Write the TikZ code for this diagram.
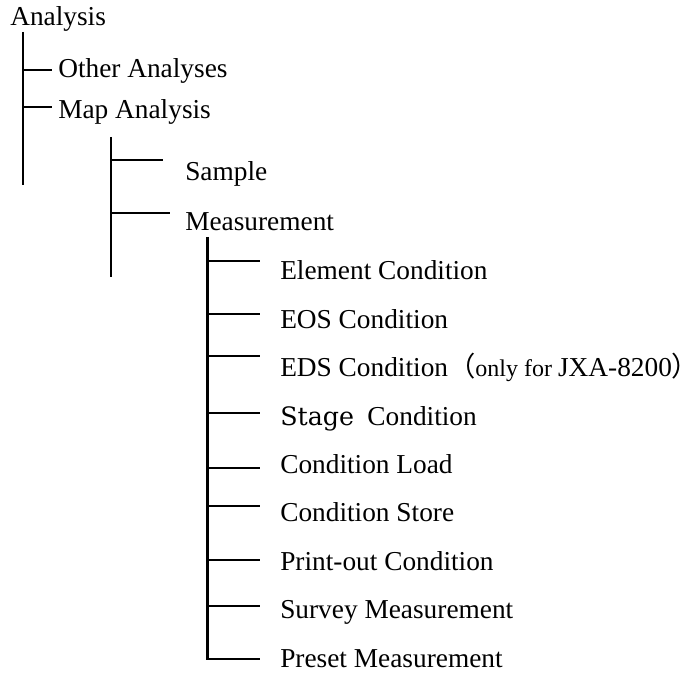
\documentclass[tikz,border=0pt]{standalone}
\usepackage{fontspec}
\setmainfont{Liberation Serif}
\newfontfamily\stagefont{DejaVu Serif}
\newfontfamily\cjkfont{Noto Sans CJK JP}

\begin{document}
\begin{tikzpicture}[x=0.75pt,y=-0.75pt,
        item/.style={anchor=base west,inner sep=0pt,font=\fontsize{20.5}{24}\selectfont},
        treeline/.style={line width=1.6pt,line join=miter}]
    \useasboundingbox (0,0) rectangle (699,673);

    % labels
    \node[item] (analysis) at (10,26) {Analysis};
    \node[item] (other) at (58,78) {Other Analyses};
    \node[item] (map) at (58,119) {Map Analysis};
    \node[item] (sample) at (185,181) {Sample};
    \node[item] (measure) at (185,231) {Measurement};
    \node[item] (element) at (280,280) {Element Condition};
    \node[item] (eos) at (280,328.4) {EOS Condition};
    \node[item] (eds) at (280,376.8) {EDS Condition{\cjkfont （}{\fontsize{18}{22}\selectfont only for }JXA-8200\makebox[0.55em][l]{\cjkfont ）}};
    \node[item] (stage) at (280,425.1) {{\stagefont\fontsize{19}{22}\selectfont Stage}\hspace{10pt}Condition};
    \node[item] (load) at (280,473.5) {Condition Load};
    \node[item] (store) at (280,521.9) {Condition Store};
    \node[item] (print) at (280,570.3) {Print-out Condition};
    \node[item] (survey) at (280,618.6) {Survey Measurement};
    \node[item] (preset) at (280,667) {Preset Measurement};

    % first level
    \coordinate (top1) at (23,32);
    \coordinate (bot1) at (23,185);
    \draw[treeline] (top1) -- (bot1);
    \foreach \y [count=\i] in {70,107}
        \draw[treeline] (23,\y) coordinate (j1\i) -- (52,\y) coordinate (e1\i);

    % second level
    \coordinate (top2) at (111,137);
    \coordinate (bot2) at (111,277);
    \draw[treeline] (top2) -- (bot2);
    \foreach \y/\x [count=\i] in {160/163,213/170}
        \draw[treeline] (111,\y) coordinate (j2\i) -- (\x,\y) coordinate (e2\i);

    % third level
    \coordinate (top3) at (207.5,237);
    \foreach \y [count=\i] in {261,314,356,413,468,506,560,606}
        \draw[treeline] (207.5,\y) coordinate (j3\i) -- (260,\y) coordinate (e3\i);
    \coordinate (bot3) at (260,659);
    \draw[treeline] (top3) |- (bot3);
\end{tikzpicture}
\end{document}
